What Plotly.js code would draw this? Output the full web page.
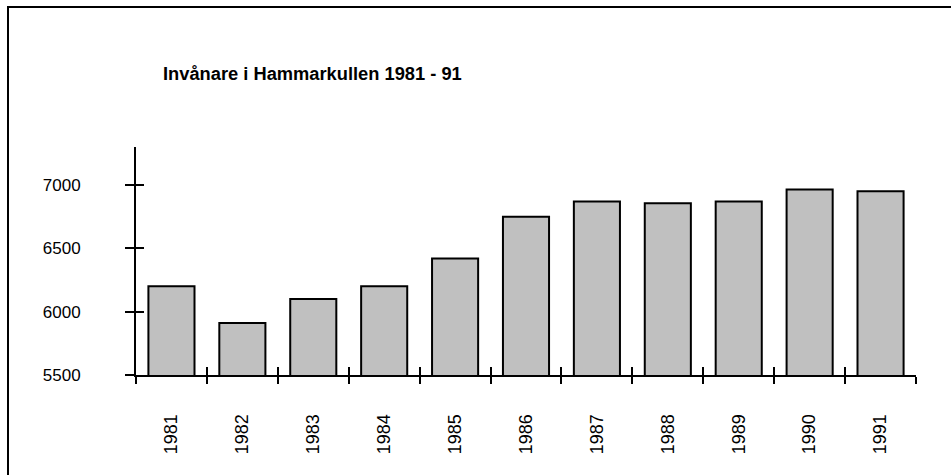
<!DOCTYPE html>
<html>
<head>
<meta charset="utf-8">
<script src="https://cdn.plot.ly/plotly-3.0.1.min.js"></script>
<style>
  html, body { margin: 0; padding: 0; background: #fff; overflow: hidden; }
  #wrap { position: relative; width: 951px; height: 475px; }
  #chart { position: absolute; left: 0; top: 0; width: 951px; height: 475px; }
  #frame { position: absolute; left: 7px; top: 6px; width: 1000px; height: 600px;
           border-left: 2px solid #000; border-top: 2px solid #000; pointer-events: none; }
</style>
</head>
<body>
<div id="wrap">
  <div id="chart"></div>
  <div id="frame"></div>
</div>
<script>
const years = ['1981','1982','1983','1984','1985','1986','1987','1988','1989','1990','1991'];
const inhabitants = [6200, 5910, 6100, 6200, 6420, 6750, 6870, 6855, 6870, 6965, 6950];
const yTicks = [5500, 6000, 6500, 7000];
const yRange = [5500, 7300];
const titleText = 'Invånare i Hammarkullen 1981 - 91';

const n = years.length;
const boundaries = years.map((_, i) => i - 0.5).concat([n - 0.5]);

const font = 'Liberation Sans, Arial, sans-serif';

const traces = [
  {
    type: 'bar',
    x: years,
    y: inhabitants,
    marker: { color: '#c0c0c0', line: { color: '#000', width: 2 } },
    hoverinfo: 'x+y',
    showlegend: false
  },
  {
    type: 'scatter', mode: 'markers', x: [], y: [],
    xaxis: 'x2', yaxis: 'y2', showlegend: false, hoverinfo: 'skip'
  }
];

const layout = {
  width: 951, height: 475,
  margin: { l: 136, r: 35, t: 147, b: 100, pad: 0 },
  paper_bgcolor: '#fff', plot_bgcolor: '#fff',
  showlegend: false,
  bargap: 0.35,
  font: { family: font, color: '#000' },
  title: {
    text: '<b>' + titleText + '</b>',
    font: { family: font, size: 18.3, color: '#000' },
    xref: 'container', yref: 'container',
    x: 163 / 951, xanchor: 'left',
    y: 1 - 74 / 475, yanchor: 'middle'
  },
  xaxis: {
    type: 'category',
    range: [-0.5, n - 0.5],
    showgrid: false, zeroline: false,
    showline: true, linecolor: '#000', linewidth: 2,
    ticks: 'outside', tickson: 'boundaries', ticklen: 7, tickwidth: 2, tickcolor: '#000',
    tickangle: -90,
    tickfont: { family: font, size: 18, color: '#000' },
    ticklabelstandoff: 30,
    fixedrange: true
  },
  xaxis2: {
    type: 'linear', overlaying: 'x', anchor: 'y2',
    range: [-0.5, n - 0.5],
    tickmode: 'array', tickvals: boundaries,
    showgrid: false, zeroline: false, showline: false,
    ticks: 'inside', ticklen: 8, tickwidth: 2, tickcolor: '#000',
    showticklabels: false, fixedrange: true
  },
  yaxis: {
    range: yRange,
    tickmode: 'array', tickvals: yTicks, ticktext: yTicks.map(String),
    showgrid: false, zeroline: false,
    showline: true, linecolor: '#000', linewidth: 2,
    ticks: 'outside', ticklen: 9, tickwidth: 2, tickcolor: '#000',
    tickfont: { family: font, size: 17, color: '#000' },
    ticklabelstandoff: 41,
    fixedrange: true
  },
  yaxis2: {
    overlaying: 'y', anchor: 'x2', side: 'left',
    range: yRange,
    tickmode: 'array', tickvals: yTicks,
    showgrid: false, zeroline: false, showline: false,
    ticks: 'inside', ticklen: 8, tickwidth: 2, tickcolor: '#000',
    showticklabels: false, fixedrange: true
  }
};

Plotly.newPlot('chart', traces, layout, { displayModeBar: false, staticPlot: true });
</script>
</body>
</html>
